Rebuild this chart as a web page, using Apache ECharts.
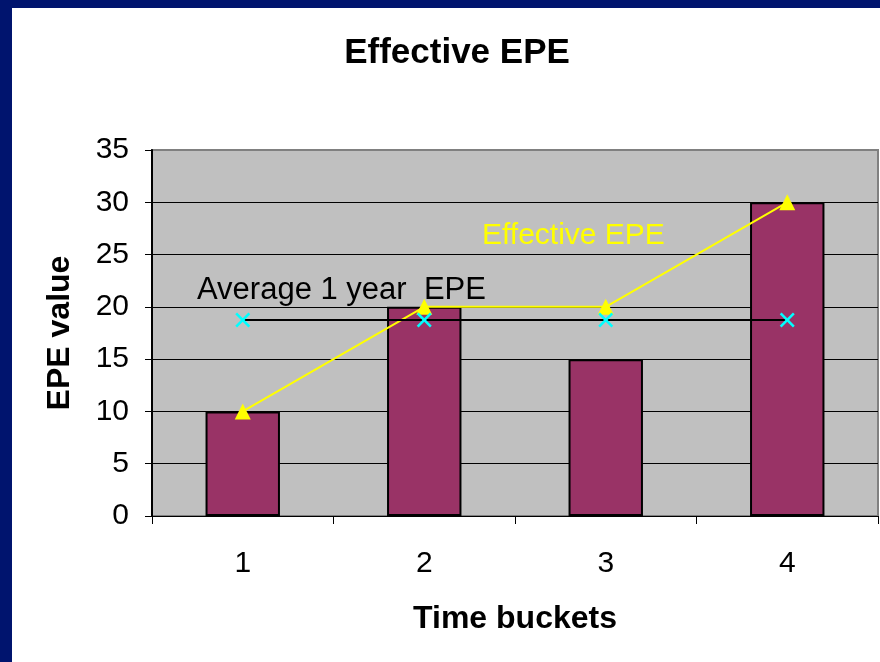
<!DOCTYPE html>
<html>
<head>
<meta charset="utf-8">
<script src="https://cdn.jsdelivr.net/npm/echarts@6/dist/echarts.min.js"></script>
<style>
  html, body { margin: 0; padding: 0; }
  body { width: 880px; height: 662px; background: #00146E; position: relative; overflow: hidden; }
  #panel { position: absolute; left: 12px; top: 8px; width: 868px; height: 654px; background: #FFFFFF; }
  #chart { position: absolute; left: 0; top: 0; width: 880px; height: 662px; }
</style>
</head>
<body>
<div id="panel"></div>
<div id="chart"></div>
<script>
// Time buckets on the horizontal axis
const buckets = ['1', '2', '3', '4'];
// EPE per time bucket (bars)
const epeValues = [10, 20, 15, 30];
// Effective EPE: running maximum of EPE
const effectiveEpe = [10, 20, 20, 30];
// 1 year average EPE, flat across the buckets
const averageEpe = [18.75, 18.75, 18.75, 18.75];
// Value axis ticks
const yTicks = [0, 5, 10, 15, 20, 25, 30, 35];

const FONT = 'Arial, "Liberation Sans", sans-serif';
const xMark = 'path://M0,1.2L1.2,0L5,3.8L8.8,0L10,1.2L6.2,5L10,8.8L8.8,10L5,6.2L1.2,10L0,8.8L3.8,5Z';

const chart = echarts.init(document.getElementById('chart'), null, { renderer: 'canvas' });

chart.setOption({
  backgroundColor: 'transparent',
  animation: false,
  grid: {
    left: 152, top: 150, right: 2, bottom: 146,
    show: true,
    backgroundColor: '#C0C0C0',
    borderColor: '#808080',
    borderWidth: 2
  },
  graphic: [
    {
      type: 'text', x: 457, y: 53, z: 10,
      style: { text: 'Effective EPE', font: 'bold 35px ' + FONT, fill: '#000000', align: 'center', verticalAlign: 'middle' }
    },
    {
      type: 'text', x: 197, y: 290, z: 10,
      style: { text: 'Average 1 year  EPE', font: '31px ' + FONT, fill: '#000000', verticalAlign: 'middle' }
    },
    {
      type: 'text', x: 482, y: 236, z: 10,
      style: { text: 'Effective EPE', font: '30px ' + FONT, fill: '#FFFF00', verticalAlign: 'middle' }
    }
  ],
  xAxis: {
    type: 'category',
    data: buckets,
    name: 'Time buckets',
    nameLocation: 'middle',
    nameGap: 87,
    nameTextStyle: { fontFamily: FONT, fontWeight: 'bold', fontSize: 32, color: '#000000' },
    axisLine: { lineStyle: { color: '#000000', width: 1 } },
    axisTick: { show: true, length: 8, lineStyle: { color: '#000000' } },
    axisLabel: { fontFamily: FONT, fontSize: 30, color: '#000000', margin: 33 },
    splitLine: { show: false }
  },
  yAxis: {
    type: 'value',
    min: yTicks[0],
    max: yTicks[yTicks.length - 1],
    interval: yTicks[1] - yTicks[0],
    name: 'EPE value',
    nameLocation: 'middle',
    nameGap: 76,
    nameRotate: 90,
    nameTextStyle: { fontFamily: FONT, fontWeight: 'bold', fontSize: 32, color: '#000000' },
    axisLine: { show: true, lineStyle: { color: '#000000', width: 2 } },
    axisTick: { show: true, length: 7, lineStyle: { color: '#000000' } },
    axisLabel: { fontFamily: FONT, fontSize: 30, color: '#000000', margin: 23 },
    splitLine: {
      show: true,
      lineStyle: {
        color: ['#000000', '#000000', '#000000', '#000000', '#000000', '#000000', '#000000', '#808080'],
        width: 1
      }
    }
  },
  series: [
    {
      name: 'EPE',
      type: 'bar',
      data: epeValues,
      barWidth: '41%',
      itemStyle: { color: '#993366', borderColor: '#000000', borderWidth: 2 },
      z: 2
    },
    {
      name: 'Effective EPE',
      type: 'line',
      data: effectiveEpe,
      symbol: 'triangle',
      symbolSize: 16,
      lineStyle: { color: '#FFFF00', width: 2 },
      itemStyle: { color: '#FFFF00' },
      z: 3
    },
    {
      name: 'Average 1 year EPE',
      type: 'line',
      data: averageEpe,
      symbol: xMark,
      symbolSize: 15,
      lineStyle: { color: '#000000', width: 2 },
      itemStyle: { color: '#00FFFF' },
      z: 4
    }
  ]
});
</script>
</body>
</html>
